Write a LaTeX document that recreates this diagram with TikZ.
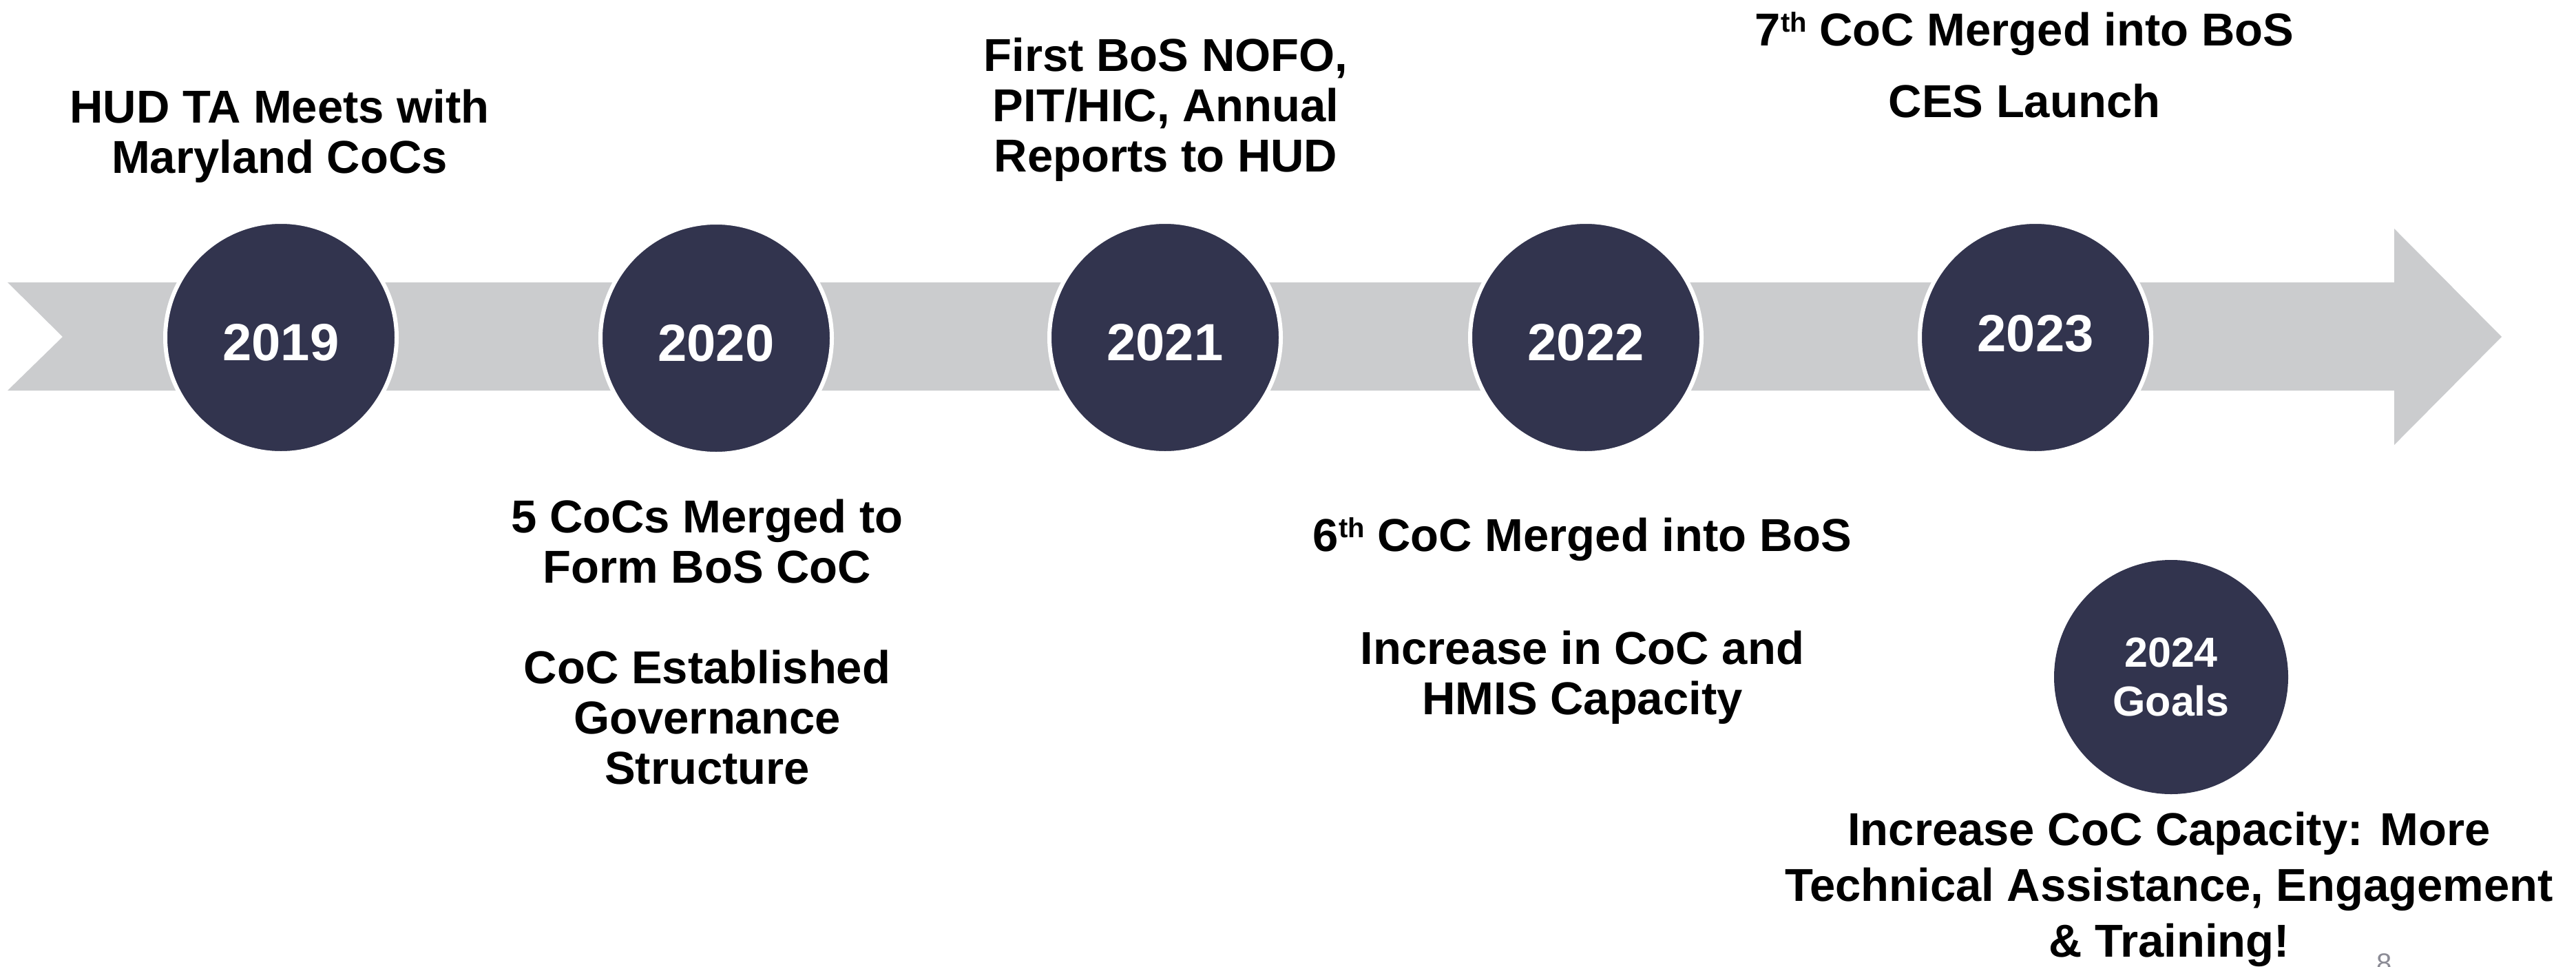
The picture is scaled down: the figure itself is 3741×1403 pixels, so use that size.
\documentclass[tikz,border=0pt]{standalone}
\usepackage{fontspec}
\setmainfont{Liberation Sans}
\definecolor{navy}{HTML}{32344E}
\definecolor{bandgrey}{HTML}{CBCCCE}
\definecolor{pagegrey}{HTML}{8C8C96}
% raised ordinal suffix (6th, 7th)
\newcommand{\ordsup}[1]{\raisebox{20pt}{\fontsize{40}{40}\selectfont #1}}

\begin{document}
\begin{tikzpicture}[x=1pt,y=-1pt,
  yearcirc/.style={circle, fill=navy, draw=white, line width=6pt,
    minimum size=336pt, inner sep=0pt, text=white,
    font=\fontsize{76}{80}\selectfont\bfseries,
    text height=66pt, text depth=0pt},
  goalcirc/.style={circle, fill=navy, minimum size=340pt, inner sep=0pt,
    text=white, align=center, font=\fontsize{61}{71}\selectfont\bfseries},
  eventtext/.style={anchor=base, align=center, inner sep=0pt,
    font=\fontsize{67}{73}\selectfont\bfseries},
  goaltext/.style={eventtext, font=\fontsize{67}{81}\selectfont\bfseries}]

\path[use as bounding box, clip] (0,0) rectangle (3741,1403);

% timeline band with notched tail and arrow head
\fill[bandgrey] (11,410) -- (3477,410) -- (3477,332) -- (3633,489)
  -- (3477,646) -- (3477,567) -- (11,567) -- (91,489) -- cycle;

% year markers
\node[yearcirc] (y2019) at (408,490) {2019};
\node[yearcirc] (y2020) at (1040,491) {2020};
\node[yearcirc] (y2021) at (1692,490) {2021};
\node[yearcirc] (y2022) at (2303,490) {2022};
\node[yearcirc, text height=40pt] (y2023) at (2956,490) {2023};
\node[goalcirc] (g2024) at (3153,983) {2024\\Goals};

% milestone descriptions (anchored at the baseline of their last line)
\node[eventtext] (t2019) at (406,251) {HUD TA Meets with\\Maryland CoCs};
\node[eventtext] (t2020) at (1027,1138)
  {5 CoCs Merged to\\Form BoS CoC\\[73pt]CoC Established\\Governance\\Structure};
\node[eventtext] (t2021) at (1693,249)
  {First BoS NOFO,\\PIT/HIC, Annual\\Reports to HUD};
\node[eventtext] (t2022) at (2298,1037)
  {6\ordsup{th} CoC Merged into BoS\\[91pt]Increase in CoC and\\HMIS Capacity};
\node[eventtext] (t2023) at (2940,170)
  {7\ordsup{th} CoC Merged into BoS\\[31pt]CES Launch};
\node[goaltext] (tgoals) at (3150,1389)
  {Increase CoC Capacity: More\\Technical Assistance, Engagement\\\& Training!};

% slide number
\node[anchor=base, inner sep=0pt, text=pagegrey, font=\fontsize{40}{40}\selectfont]
  (pagenum) at (3463,1412) {8};
\end{tikzpicture}
\end{document}
